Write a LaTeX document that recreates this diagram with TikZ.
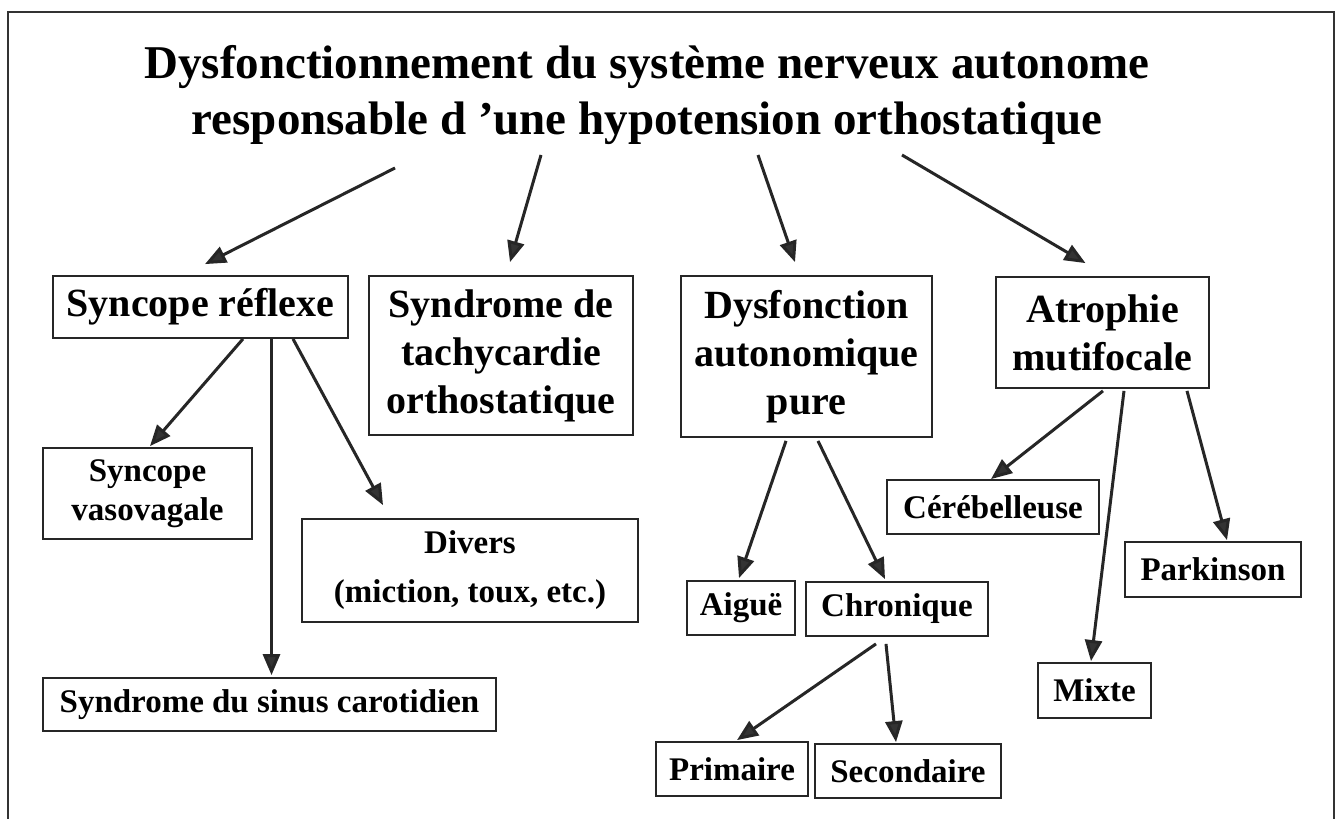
\documentclass[tikz,border=0pt]{standalone}
\usepackage{fontspec}
\setmainfont{Liberation Serif}
\usetikzlibrary{arrows.meta}
\begin{document}
\begin{tikzpicture}[x=1pt,y=-1pt,
  frame/.style={line width=1.6pt, draw=black!80},
  box/.style={draw=black!85, line width=1.8pt, inner sep=0pt, align=center, font=\bfseries},
  bigbox/.style={box, font=\fontsize{40}{48}\selectfont\bfseries},
  smallbox/.style={box, font=\fontsize{33}{39}\selectfont\bfseries},
  arr/.style={line width=3pt, draw=black!85, -{Triangle[length=21pt,width=17pt,fill=black!80]}},
  titlefont/.style={font=\fontsize{47}{56}\selectfont\bfseries, align=center, inner sep=0pt}
]
\useasboundingbox (0,0) rectangle (1339,819);
\fill[white] (0,0) rectangle (1339,819);
% frame
\draw[frame] (8,819) -- (8,12) -- (1334,12) -- (1334,819);

% title
\node[titlefont, anchor=base] (t1) at (647,78) {Dysfonctionnement du système nerveux autonome};
\node[titlefont, anchor=base] (t2) at (647,134) {responsable d ’une hypotension orthostatique};

\coordinate (s1) at (395,168);
\coordinate (s2) at (541,155);
\coordinate (s3) at (758,155);
\coordinate (s4) at (902,155);

% level 1
\node[bigbox, minimum width=295pt, minimum height=62pt] (sr) at (200.5,307) {Syncope réflexe};
\node[bigbox, minimum width=264pt, minimum height=159pt] (stach) at (501,355.5) {Syndrome de\\tachycardie\\orthostatique};
\node[bigbox, minimum width=251pt, minimum height=161pt] (dap) at (806.5,356.5) {Dysfonction\\autonomique\\pure};
\node[bigbox, minimum width=213pt, minimum height=111pt] (amf) at (1102.5,332.5) {Atrophie\\mutifocale};

% level 2
\node[smallbox, minimum width=209pt, minimum height=91pt] (svv) at (147.5,493.5) {Syncope\\vasovagale};
\node[smallbox, minimum width=336pt, minimum height=103pt, font=\fontsize{33}{49}\selectfont\bfseries] (div) at (470,570.5) {Divers\\(miction, toux, etc.)};
\node[smallbox, minimum width=453pt, minimum height=53pt] (ssc) at (269.5,704.5) {Syndrome du sinus carotidien};
\node[smallbox, minimum width=212pt, minimum height=54pt] (cer) at (993,507) {Cérébelleuse};
\node[smallbox, minimum width=176pt, minimum height=55pt] (park) at (1213,569.5) {Parkinson};
\node[smallbox, minimum width=108pt, minimum height=54pt] (aig) at (741,608) {Aiguë};
\node[smallbox, minimum width=182pt, minimum height=54pt] (chr) at (897,609) {Chronique};
\node[smallbox, minimum width=113pt, minimum height=55pt] (mix) at (1094.5,690.5) {Mixte};
\node[smallbox, minimum width=152pt, minimum height=54pt] (pri) at (732,769) {Primaire};
\node[smallbox, minimum width=186pt, minimum height=54pt] (sec) at (908,771) {Secondaire};

% arrows from title
\draw[arr] (s1) -- ([xshift=4.5pt,yshift=11pt]sr.north);
\draw[arr] (s2) -- ([xshift=9pt,yshift=13pt]stach.north);
\draw[arr] (s3) -- ([xshift=-11.5pt,yshift=13pt]dap.north);
\draw[arr] (s4) -- ([xshift=-17pt,yshift=13pt]amf.north);

% syncope reflexe
\draw[arr] ([xshift=42.5pt]sr.south) -- ([xshift=2.5pt,yshift=1pt]svv.north);
\draw[arr] ([xshift=71pt]sr.south) -- ([xshift=2pt,yshift=2pt]ssc.north);
\draw[arr] ([xshift=92.5pt]sr.south) -- ([xshift=-87pt,yshift=13pt]div.north);

% dysfonction
\draw[arr] ([xshift=-20.5pt,yshift=-3pt]dap.south) -- ([xshift=-2pt,yshift=2pt]aig.north);
\draw[arr] ([xshift=11.5pt,yshift=-3pt]dap.south) -- ([xshift=-12pt,yshift=2pt]chr.north);
\draw[arr] ([xshift=-21pt,yshift=-7pt]chr.south) -- ([xshift=5pt,yshift=1pt]pri.north);
\draw[arr] ([xshift=-11pt,yshift=-7pt]chr.south) -- ([xshift=-12pt,yshift=1pt]sec.north);

% atrophie
\draw[arr] ([xshift=0.5pt,yshift=-2pt]amf.south) -- ([xshift=-2pt]cer.north);
\draw[arr] ([xshift=21.5pt,yshift=-2pt]amf.south) -- ([xshift=-3.5pt,yshift=1pt]mix.north);
\draw[arr] ([xshift=84.5pt,yshift=-2pt]amf.south) -- ([xshift=14pt,yshift=1pt]park.north);
\end{tikzpicture}
\end{document}
